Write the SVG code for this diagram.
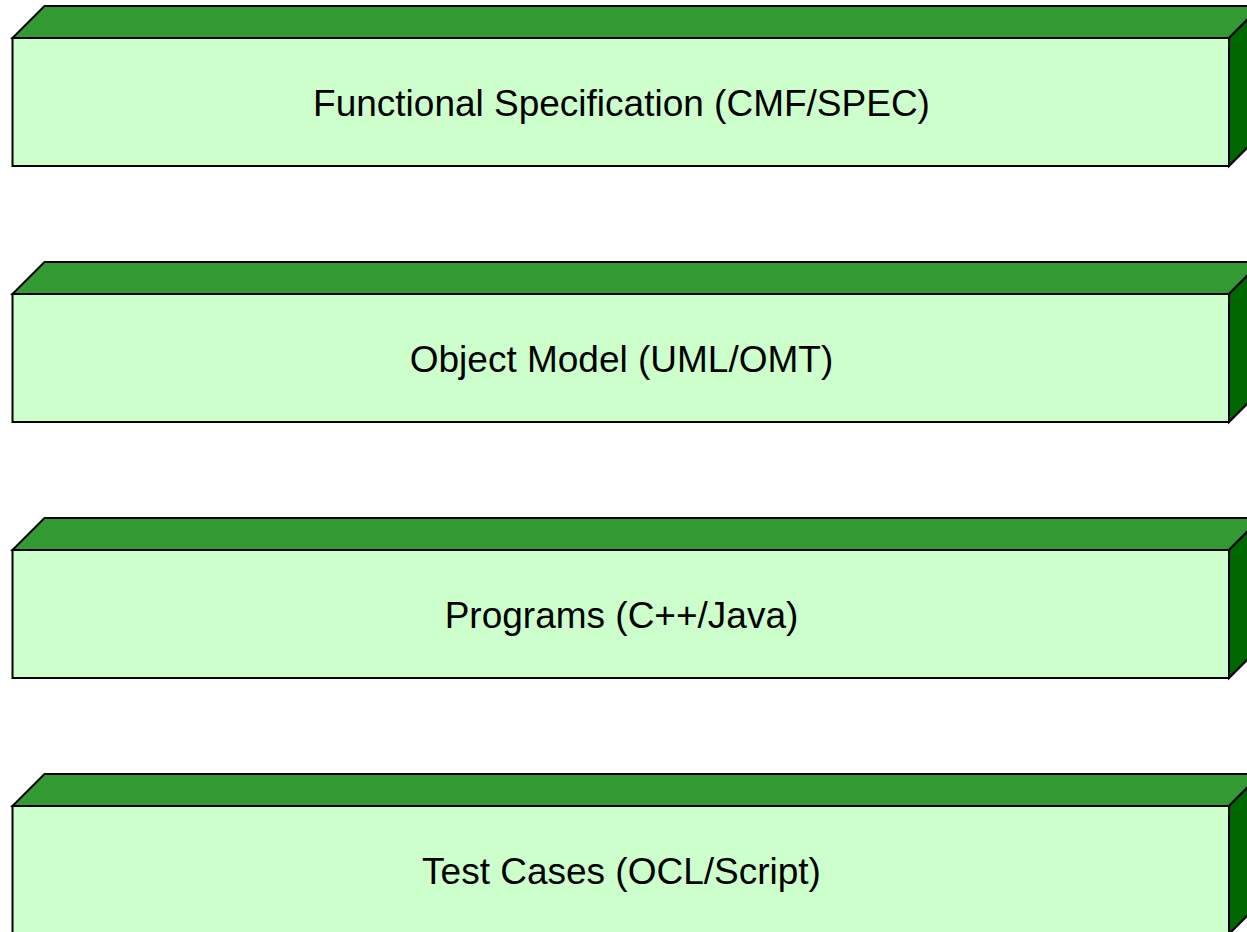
<svg xmlns="http://www.w3.org/2000/svg" width="1247" height="932" viewBox="0 0 1247 932">
  <defs>
    <style>
      .top { fill: #339933; stroke: #000; stroke-width: 2; stroke-linejoin: miter; }
      .side { fill: #006600; stroke: #000; stroke-width: 2; }
      .front { fill: #CCFFCC; stroke: #000; stroke-width: 2; }
      .label { font-family: "Liberation Sans", Arial, sans-serif; font-size: 37px; fill: #000; text-anchor: middle; }
    </style>
  </defs>
  <rect width="1247" height="932" fill="#FFFFFF"/>

  <!-- layer 1 -->
  <g id="functional-specification">
    <polygon class="top" points="12.5,38 44.5,6 1261,6 1229,38"/>
    <polygon class="side" points="1229,38 1261,6 1261,134 1229,166"/>
    <rect class="front" x="12.5" y="38" width="1216.5" height="128"/>
    <text class="label" x="621.5" y="116">Functional Specification (CMF/SPEC)</text>
  </g>

  <!-- layer 2 -->
  <g id="object-model">
    <polygon class="top" points="12.5,294 44.5,262 1261,262 1229,294"/>
    <polygon class="side" points="1229,294 1261,262 1261,390 1229,422"/>
    <rect class="front" x="12.5" y="294" width="1216.5" height="128"/>
    <text class="label" x="621.5" y="372">Object Model (UML/OMT)</text>
  </g>

  <!-- layer 3 -->
  <g id="programs">
    <polygon class="top" points="12.5,550 44.5,518 1261,518 1229,550"/>
    <polygon class="side" points="1229,550 1261,518 1261,646 1229,678"/>
    <rect class="front" x="12.5" y="550" width="1216.5" height="128"/>
    <text class="label" x="621.5" y="628">Programs (C++/Java)</text>
  </g>

  <!-- layer 4 -->
  <g id="test-cases">
    <polygon class="top" points="12.5,806 44.5,774 1261,774 1229,806"/>
    <polygon class="side" points="1229,806 1261,774 1261,902 1229,934"/>
    <rect class="front" x="12.5" y="806" width="1216.5" height="128"/>
    <text class="label" x="621.5" y="884">Test Cases (OCL/Script)</text>
  </g>

  <!-- connectors: none between layers -->
  <g id="connectors"/>
</svg>
